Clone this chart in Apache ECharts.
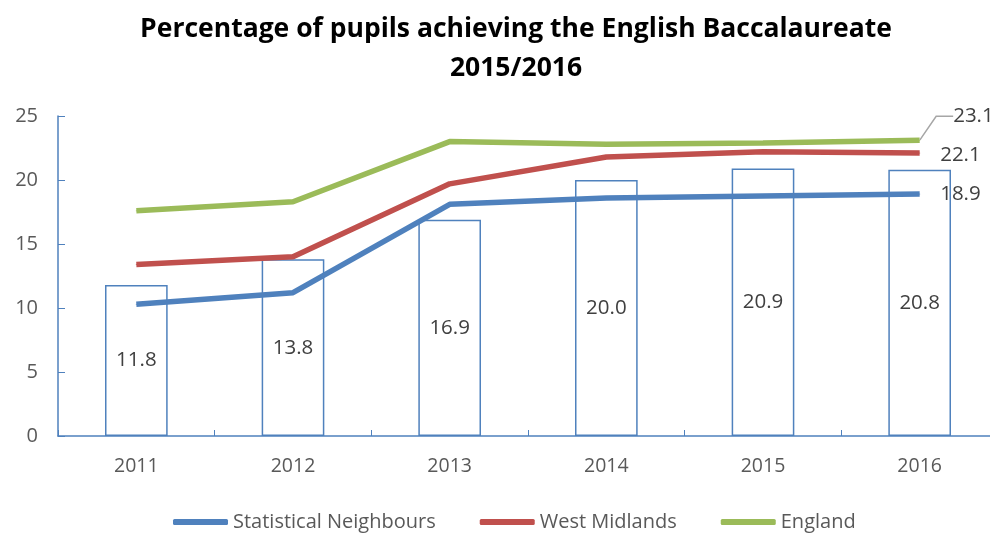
<!DOCTYPE html>
<html>
<head>
<meta charset="utf-8">
<script src="https://cdn.jsdelivr.net/npm/echarts@6/dist/echarts.min.js"></script>
<style>
  html, body { margin: 0; padding: 0; background: #fff; }
  #chart { width: 990px; height: 533px; }
</style>
</head>
<body>
<div id="chart"></div>
<script>
const years = ["2011", "2012", "2013", "2014", "2015", "2016"];
const localAuthority = [11.8, 13.8, 16.9, 20.0, 20.9, 20.8];
const statNeighbours = [10.3, 11.2, 18.1, 18.6, 18.75, 18.9];
const westMidlands = [13.4, 14.0, 19.7, 21.8, 22.2, 22.1];
const england = [17.6, 18.3, 23.0, 22.8, 22.9, 23.1];
const yTicks = [0, 5, 10, 15, 20, 25];

const font = "Open Sans";
const textColor = "#595959";

// only the last point of each line gets a label
const lastLabel = (arr) =>
  arr.map((v, i) =>
    i === arr.length - 1 ? { value: v, label: { show: true } } : v
  );

const chart = echarts.init(document.getElementById("chart"));
chart.setOption({
  animation: false,
  title: {
    text: "Percentage of pupils achieving the English Baccalaureate\n2015/2016",
    left: 511,
    textAlign: "center",
    top: 5,
    textStyle: {
      fontFamily: font,
      fontWeight: "bold",
      fontSize: 26.5,
      lineHeight: 39,
      color: "#000",
    },
  },
  grid: {
    left: 58,
    width: 940,
    top: 116,
    bottom: 97,
    outerBoundsMode: "none",
  },
  legend: {
    data: ["Statistical Neighbours", "West Midlands", "England"],
    bottom: -4,
    left: 168,
    itemWidth: 55,
    itemHeight: 6,
    itemGap: 44,
    icon: "roundRect",
    textStyle: { fontFamily: font, fontSize: 20, color: textColor },
  },
  xAxis: {
    type: "category",
    data: years,
    axisLine: { lineStyle: { color: "#4F81BD", width: 1.5 } },
    axisTick: { show: true, inside: true, length: 6, lineStyle: { color: "#4F81BD" } },
    axisLabel: { fontFamily: font, fontSize: 19.5, color: textColor, margin: 20 },
  },
  yAxis: {
    type: "value",
    min: 0,
    max: 25,
    interval: 5,
    axisLine: { show: true, lineStyle: { color: "#4F81BD", width: 1.5 } },
    axisTick: { show: true, inside: true, length: 7, lineStyle: { color: "#4F81BD" } },
    axisLabel: {
      fontFamily: font,
      fontSize: 20,
      color: textColor,
      margin: 20,
      formatter: (v) => (yTicks.includes(v) ? String(v) : ""),
    },
    splitLine: { show: false },
  },
  series: [
    {
      name: "Local authority",
      type: "bar",
      data: localAuthority,
      barWidth: "40%",
      z: 1,
      itemStyle: { color: "#fff", borderColor: "#4F81BD", borderWidth: 1.5 },
      label: {
        show: true,
        position: "inside",
        formatter: (p) => p.value.toFixed(1),
        fontFamily: font,
        fontSize: 20.5,
        color: "#404040",
      },
    },
    {
      name: "Statistical Neighbours",
      type: "line",
      data: lastLabel(statNeighbours),
      symbol: "circle",
      symbolSize: 1,
      showSymbol: true,
      z: 3,
      lineStyle: { color: "#4F81BD", width: 5.5 },
      itemStyle: { color: "#4F81BD" },
      label: {
        position: "right",
        distance: 20,
        formatter: "18.9",
        fontFamily: font,
        fontSize: 20.5,
        color: "#404040",
      },
    },
    {
      name: "West Midlands",
      type: "line",
      data: lastLabel(westMidlands),
      symbol: "circle",
      symbolSize: 1,
      showSymbol: true,
      z: 3,
      lineStyle: { color: "#C0504D", width: 5.5 },
      itemStyle: { color: "#C0504D" },
      label: {
        position: "right",
        distance: 20,
        offset: [0, 2],
        formatter: "22.1",
        fontFamily: font,
        fontSize: 20.5,
        color: "#404040",
      },
    },
    {
      name: "England",
      type: "line",
      data: lastLabel(england),
      symbol: "circle",
      symbolSize: 1,
      showSymbol: true,
      z: 3,
      lineStyle: { color: "#9BBB59", width: 5.5 },
      itemStyle: { color: "#9BBB59" },
      label: {
        position: "right",
        distance: 4,
        padding: [0, 0, 0, 13],
        formatter: "23.1",
        fontFamily: font,
        fontSize: 20.5,
        color: "#404040",
      },
      labelLayout: { dx: 16, dy: -24 },
      labelLine: { show: true, length2: 17, lineStyle: { color: "#A6A6A6", width: 1.5 } },
    },
  ],
});
window.addEventListener("resize", () => chart.resize());
</script>
</body>
</html>
